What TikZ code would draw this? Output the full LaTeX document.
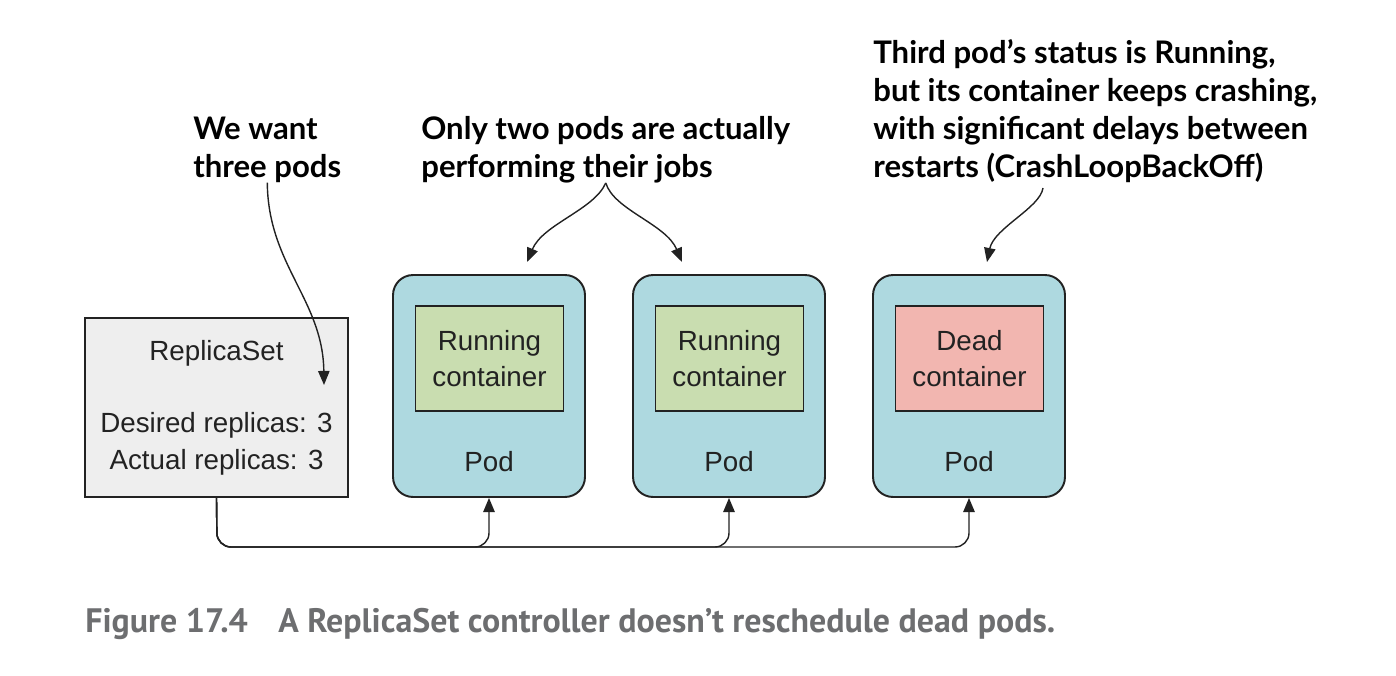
\documentclass[tikz,border=0pt]{standalone}
\usepackage{fontspec}
\setmainfont{Liberation Sans}
\newfontfamily\notefont{Lato}
\newfontfamily\capfont{PT Sans}
\usetikzlibrary{arrows.meta}
\definecolor{ink}{HTML}{222222}
\definecolor{rsfill}{HTML}{EEEEEE}
\definecolor{podfill}{HTML}{AED9E0}
\definecolor{runfill}{HTML}{C9DDB0}
\definecolor{deadfill}{HTML}{F2B6B0}
\definecolor{capgray}{HTML}{6D6E70}

\begin{document}
\begin{tikzpicture}[x=0.02cm,y=-0.02cm,
  box/.style={draw=ink,line width=1.1pt,inner sep=0pt},
  rsbox/.style={box,fill=rsfill,minimum width=5.26cm,minimum height=3.58cm},
  podbox/.style={box,fill=podfill,rounded corners=0.4cm,minimum width=3.84cm,minimum height=4.44cm},
  ctbox/.style={box,minimum width=2.96cm,minimum height=2.1cm,align=center,font=\fontsize{15.8}{20.5}\selectfont,text=ink},
  txt/.style={font=\fontsize{15.8}{20.5}\selectfont,text=ink,inner sep=0pt},
  note/.style={font=\notefont\bfseries\fontsize{17.7}{21.5}\selectfont,align=left,anchor=base west,inner sep=0pt},
  tip/.style={-{Triangle[length=8pt,width=6.5pt]},line width=0.8pt,draw=ink}]
\useasboundingbox (0,0) rectangle (1396,676);
% replica set
\node[rsbox] (rs) at (216.5,407.5) {};
\node[txt] (rsname) at (216.5,353) {ReplicaSet};
\node[txt] (rsdes) at (216.5,425) {Desired replicas: 3};
\node[txt] (rsact) at (216.5,462) {Actual replicas: 3};
% pods
\node[podbox] (pod1) at (489,386) {};
\node[podbox] (pod2) at (729,386) {};
\node[podbox] (pod3) at (969,386) {};
\node[ctbox,fill=runfill] (ct1) at (489.5,358.5) {Running\\container};
\node[ctbox,fill=runfill] (ct2) at (729.5,358.5) {Running\\container};
\node[ctbox,fill=deadfill] (ct3) at (969.5,358.5) {Dead\\container};
\node[txt] (pl1) at (489,462) {Pod};
\node[txt] (pl2) at (729,462) {Pod};
\node[txt] (pl3) at (969,462) {Pod};
% notes
\node[note] (note1) at (193,177) {We want\\three pods};
\node[note] (note2) at (421,177) {Only two pods are actually\\performing their jobs};
\node[note] (note3) at (873,177) {Third pod’s status is Running,\\but its container keeps crashing,\\with significant delays between\\restarts (CrashLoopBackOff)};
\coordinate (rsin) at (324,385);
\coordinate (top1) at (527,262);
\coordinate (top2) at (682,262);
\coordinate (s3) at (1043,188);
\coordinate (top3) at (987,262);
\draw[tip] (note1.south) .. controls (268,265) and (323,300) .. (rsin);
\draw[tip] (note2.south) .. controls (594,210) and (543,224) .. (top1);
\draw[tip] (note2.south) .. controls (614,210) and (666,224) .. (top2);
\draw[tip] (s3) .. controls (1040,208) and (994,228) .. (top3);
% bus to the pods
\coordinate (bus) at (217,547);
\draw[tip,rounded corners=8pt] (rs.south) -- (bus) -| (pod1.south);
\draw[tip,rounded corners=8pt] (rs.south) -- (bus) -| (pod2.south);
\draw[tip,rounded corners=8pt] (rs.south) -- (bus) -| (pod3.south);
% caption
\node[anchor=base west,inner sep=0pt,text=capgray,font=\capfont\bfseries\fontsize{19.3}{22}\selectfont] (cap) at (85,632) {Figure 17.4\hspace{0.9em}A ReplicaSet controller doesn’t reschedule dead pods.};
\end{tikzpicture}
\end{document}
